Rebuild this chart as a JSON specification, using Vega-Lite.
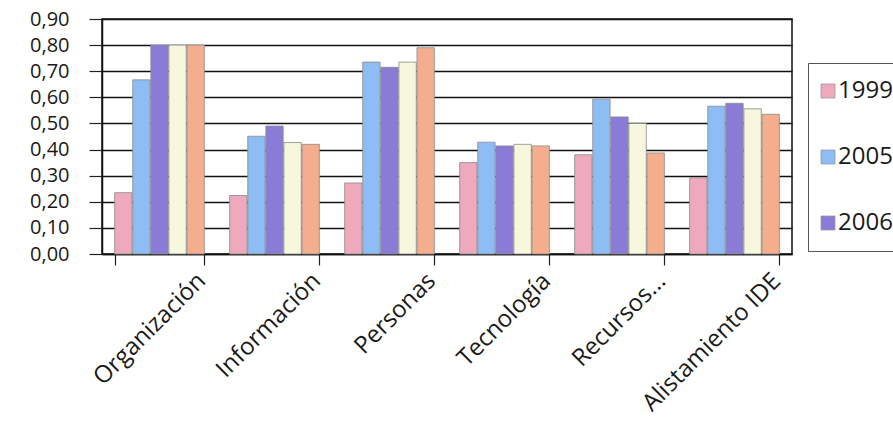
{
  "$schema": "https://vega.github.io/schema/vega-lite/v6.json",
  "width": 690,
  "height": 235,
  "autosize": "none",
  "padding": {"left": 102, "top": 19, "right": 101, "bottom": 178},
  "background": "white",
  "data": {
    "values": [
      {"categoria": "Organización", "serie": "1999", "valor": 0.235},
      {"categoria": "Organización", "serie": "2005", "valor": 0.667},
      {"categoria": "Organización", "serie": "2006", "valor": 0.80},
      {"categoria": "Organización", "serie": "2007", "valor": 0.80},
      {"categoria": "Organización", "serie": "2008", "valor": 0.80},
      {"categoria": "Información", "serie": "1999", "valor": 0.224},
      {"categoria": "Información", "serie": "2005", "valor": 0.451},
      {"categoria": "Información", "serie": "2006", "valor": 0.49},
      {"categoria": "Información", "serie": "2007", "valor": 0.427},
      {"categoria": "Información", "serie": "2008", "valor": 0.42},
      {"categoria": "Personas", "serie": "1999", "valor": 0.272},
      {"categoria": "Personas", "serie": "2005", "valor": 0.735},
      {"categoria": "Personas", "serie": "2006", "valor": 0.715},
      {"categoria": "Personas", "serie": "2007", "valor": 0.735},
      {"categoria": "Personas", "serie": "2008", "valor": 0.79},
      {"categoria": "Tecnología", "serie": "1999", "valor": 0.35},
      {"categoria": "Tecnología", "serie": "2005", "valor": 0.428},
      {"categoria": "Tecnología", "serie": "2006", "valor": 0.414},
      {"categoria": "Tecnología", "serie": "2007", "valor": 0.42},
      {"categoria": "Tecnología", "serie": "2008", "valor": 0.414},
      {"categoria": "Recursos...", "serie": "1999", "valor": 0.38},
      {"categoria": "Recursos...", "serie": "2005", "valor": 0.593},
      {"categoria": "Recursos...", "serie": "2006", "valor": 0.525},
      {"categoria": "Recursos...", "serie": "2007", "valor": 0.50},
      {"categoria": "Recursos...", "serie": "2008", "valor": 0.387},
      {"categoria": "Alistamiento IDE", "serie": "1999", "valor": 0.292},
      {"categoria": "Alistamiento IDE", "serie": "2005", "valor": 0.566},
      {"categoria": "Alistamiento IDE", "serie": "2006", "valor": 0.577},
      {"categoria": "Alistamiento IDE", "serie": "2007", "valor": 0.556},
      {"categoria": "Alistamiento IDE", "serie": "2008", "valor": 0.535}
    ]
  },
  "mark": {"type": "bar", "stroke": "#8a8a8a", "strokeWidth": 0.8},
  "encoding": {
    "x": {
      "field": "categoria",
      "type": "nominal",
      "sort": ["Organización", "Información", "Personas", "Tecnología", "Recursos...", "Alistamiento IDE"],
      "scale": {"paddingInner": 0.22, "paddingOuter": 0.11},
      "axis": {
        "title": null,
        "tickBand": "extent",
        "labelAngle": -45,
        "labelAlign": "right",
        "labelBaseline": "middle",
        "labelOffset": 42,
        "labelPadding": 12,
        "labelLimit": 400,
        "labelFont": "Open Sans",
        "labelFontSize": 24,
        "labelColor": "#1a1a1a",
        "tickSize": 11,
        "tickColor": "#222",
        "tickWidth": 1.2,
        "domainColor": "#111",
        "domainWidth": 1.5,
        "grid": false
      }
    },
    "xOffset": {
      "field": "serie",
      "type": "nominal",
      "scale": {"paddingInner": 0.04}
    },
    "y": {
      "field": "valor",
      "type": "quantitative",
      "scale": {"domain": [0, 0.9], "nice": false},
      "axis": {
        "title": null,
        "values": [0, 0.1, 0.2, 0.3, 0.4, 0.5, 0.6, 0.7, 0.8, 0.9],
        "labelExpr": "replace(format(datum.value, '.2f'), '.', ',')",
        "labelFont": "Open Sans",
        "labelFontSize": 20,
        "labelColor": "#1a1a1a",
        "labelPadding": 20,
        "tickSize": 13,
        "tickColor": "#222",
        "tickWidth": 1.2,
        "domainColor": "#111",
        "domainWidth": 1.5,
        "grid": true,
        "gridColor": "#111",
        "gridWidth": 1.3,
        "gridOpacity": 1
      }
    },
    "color": {
      "field": "serie",
      "type": "nominal",
      "scale": {
        "domain": ["1999", "2005", "2006", "2007", "2008"],
        "range": ["#EFA9BC", "#8DBDF4", "#8A7CD6", "#F6F7DC", "#F4AE8E"]
      },
      "legend": {
        "title": null,
        "values": ["1999", "2005", "2006"],
        "orient": "none",
        "legendX": 706,
        "legendY": 44,
        "direction": "vertical",
        "symbolType": "square",
        "symbolSize": 196,
        "symbolOffset": -8,
        "symbolStrokeColor": "#999",
        "symbolStrokeWidth": 0.8,
        "labelFont": "Open Sans",
        "labelFontSize": 24,
        "labelColor": "#1a1a1a",
        "labelOffset": -2,
        "rowPadding": 42,
        "padding": 16,
        "strokeColor": "#555",
        "fillColor": "white"
      }
    }
  },
  "config": {
    "view": {"stroke": "#111", "strokeWidth": 1.5}
  }
}
